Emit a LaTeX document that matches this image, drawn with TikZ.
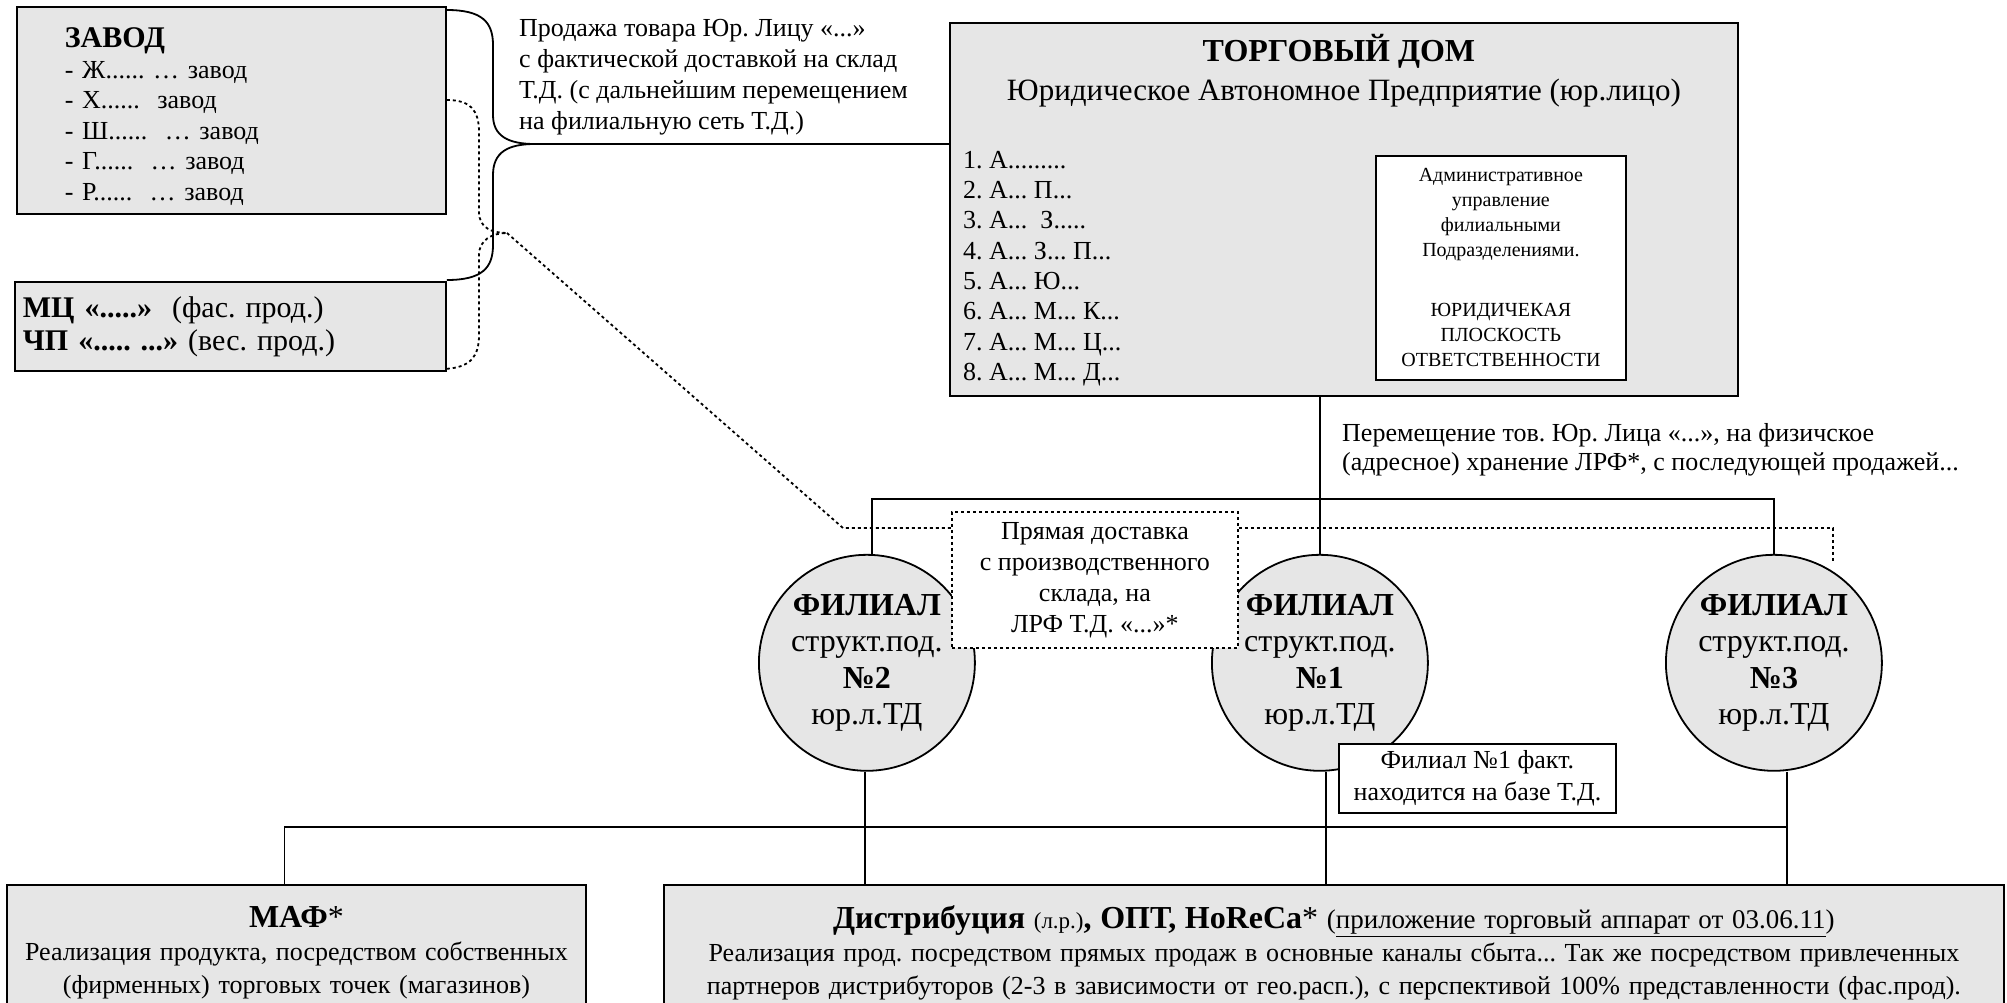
\documentclass[tikz,border=0pt]{standalone}
\usepackage{fontspec}
\setmainfont{Liberation Serif}
\usetikzlibrary{positioning}
\frenchspacing
\definecolor{boxgray}{HTML}{E6E6E6}
\tikzset{
  box/.style={draw, line width=1.8pt, fill=boxgray, inner ysep=0pt},
  whitebox/.style={draw, line width=1.8pt, fill=white, inner ysep=0pt, align=center},
  filial/.style={draw, circle, line width=1.8pt, fill=boxgray, minimum size=216pt, inner sep=0pt, align=center, font=\fontsize{32}{36.5}\selectfont},
  link/.style={line width=1.8pt},
  dotlink/.style={line width=1.8pt, dash pattern=on 3pt off 3pt},
}
\begin{document}
\begin{tikzpicture}[x=1pt, y=-1pt]
\clip (0,0) rectangle (2007,1002);

\node[box, anchor=north west, text width=333pt, inner xsep=48pt, minimum height=207pt, align=left, font=\fontsize{26}{30.5}\selectfont] (zavod) at (16,6) {{\fontsize{30}{34}\selectfont\bfseries\rule{0pt}{32pt}ЗАВОД\par}- Ж...... … завод\\- Х......~ завод\\- Ш......~ … завод\\- Г......~ … завод\\- Р......~ … завод};
\node[box, anchor=north west, text width=415pt, inner xsep=8pt, minimum height=89pt, align=left, font=\fontsize{30}{33}\selectfont] (mc) at (14,281) {\textbf{МЦ «.....»}~ (фас. прод.)\\\textbf{ЧП «..... ...»} (вес. прод.)};

\node[anchor=north west, align=left, inner sep=0pt, font=\fontsize{26}{31}\selectfont] (sale) at (519,19) {Продажа товара Юр. Лицу «...»\\с фактической доставкой на склад\\Т.Д. (с дальнейшим перемещением\\на филиальную сеть Т.Д.)};

\node[box, anchor=north west, minimum width=788pt, minimum height=373pt] (td) at (949,22) {};
\node[anchor=base, font=\fontsize{32}{36}\selectfont\bfseries] (tdtitle) at ([xshift=-5pt, yshift=-39pt]td.north) {ТОРГОВЫЙ ДОМ};
\node[anchor=base, font=\fontsize{31}{36}\selectfont] (tdsub) at ([yshift=-78pt]td.north) {Юридическое Автономное Предприятие (юр.лицо)};
\node[anchor=north west, align=left, inner sep=0pt, font=\fontsize{26}{30.3}\selectfont] (tdlist) at ([xshift=14pt, yshift=-129pt]td.north west) {1. А.........\\2. А... П...\\3. А...~ З.....\\4. А... З... П...\\5. А... Ю...\\6. А... М... К...\\7. А... М... Ц...\\8. А... М... Д...};
\node[whitebox, anchor=north west, minimum width=250pt, minimum height=224pt, font=\fontsize{20}{25}\selectfont] (admin) at ([xshift=426pt, yshift=-133pt]td.north west) {Административное\\управление\\филиальными\\Подразделениями.\\[35pt]ЮРИДИЧЕКАЯ\\ПЛОСКОСТЬ\\ОТВЕТСТВЕННОСТИ};

\node[anchor=north west, align=left, inner sep=0pt, font=\fontsize{26}{29.5}\selectfont] (move) at (1342,423) {Перемещение тов. Юр. Лица «...», на физичское\\(адресное) хранение ЛРФ*, с последующей продажей...};

\node[filial] (c1) at ([xshift=-24pt, yshift=-266pt]td.south) {\textbf{ФИЛИАЛ}\\структ.под.\\\textbf{№1}\\юр.л.ТД};
\node[filial] (c2) at ([xshift=-453pt]c1.center) {\textbf{ФИЛИАЛ}\\структ.под.\\\textbf{№2}\\юр.л.ТД};
\node[filial] (c3) at ([xshift=454pt]c1.center) {\textbf{ФИЛИАЛ}\\структ.под.\\\textbf{№3}\\юр.л.ТД};

\node[whitebox, dash pattern=on 3pt off 3pt, anchor=north west, minimum width=286pt, minimum height=136pt, font=\fontsize{26}{31}\selectfont] (dbox) at (951,511) {Прямая доставка\\с производственного\\склада, на\\ЛРФ Т.Д. «...»*};
\node[whitebox, anchor=north west, minimum width=277pt, minimum height=69pt, font=\fontsize{26}{32}\selectfont] (fact) at (1338,743) {Филиал №1 факт.\\находится на базе Т.Д.};

\node[box, anchor=north west, text width=571pt, inner xsep=4pt, minimum height=136pt, align=center, font=\fontsize{26}{33}\selectfont] (maf) at (6,884) {{\fontsize{32}{34}\selectfont\textbf{МАФ}*\par}Реализация продукта, посредством собственных\\(фирменных) торговых точек (магазинов)};
\node[box, anchor=north west, text width=1330pt, inner xsep=5pt, minimum height=136pt, align=center, font=\fontsize{26}{33}\selectfont] (dist) at (663,884) {{\fontsize{32}{34}\selectfont\textbf{Дистрибуция} {\fontsize{23}{23}\selectfont(л.р.)}\textbf{, ОПТ, HoReCa}*~{\fontsize{27}{28}\selectfont(\underline{приложение торговый аппарат от 03.06.11})}\par}Реализация прод. посредством прямых продаж в основные каналы сбыта... Так же посредством привлеченных\\партнеров дистрибуторов (2-3 в зависимости от гео.расп.), с перспективой 100\% представленности (фас.прод).};

% brace to the trade house
\coordinate (tip) at (535,144);
\draw[link] ([yshift=-4pt]zavod.north east) .. controls (482,10) and (493,22) .. (493,45) -- (493,115) .. controls (493,136) and (508,144) .. (tip);
\draw[link] ([yshift=1pt]mc.north east) .. controls (482,280) and (493,268) .. (493,245) -- (493,175) .. controls (493,152) and (508,144) .. (tip);
\draw[link] (tip) -- (tip -| td.west);

% direct delivery
\coordinate (dtip) at (507,233);
\coordinate (dcorner) at (843,528);
\coordinate (dend) at (1833,562);
\draw[dotlink] ([yshift=-94pt]zavod.north east) .. controls (470,100) and (479,110) .. (479,132) -- (479,212) .. controls (479,228) and (492,233) .. (dtip);
\draw[dotlink] ([yshift=3pt]mc.south east) .. controls (470,367) and (479,357) .. (479,335) -- (479,255) .. controls (479,240) and (492,233) .. (dtip);
\draw[dotlink] (dtip) -- (dcorner) -- (dcorner -| dbox.west);
\draw[dotlink] (dcorner -| dbox.east) -- (dcorner -| dend) -- (dend);

% branches
\draw[link] (td.south -| c1.north) -- (c1.north);
\draw[link] ([xshift=5pt]c2.north) |- ([yshift=55pt]c3.north) -- (c3.north);

\coordinate (c2out) at ([xshift=-2pt]c2.south);
\coordinate (c1out) at ([xshift=6pt]c1.south);
\coordinate (c3out) at ([xshift=13pt]c3.south);
\draw[link] (c2out) -- (dist.north -| c2out);
\draw[link] (c1out) -- (dist.north -| c1out);
\draw[link] (c3out) -- (dist.north -| c3out);
\draw[link] ([xshift=-12pt]maf.north) |- ([yshift=-55pt]c3out);

\end{tikzpicture}
\end{document}
